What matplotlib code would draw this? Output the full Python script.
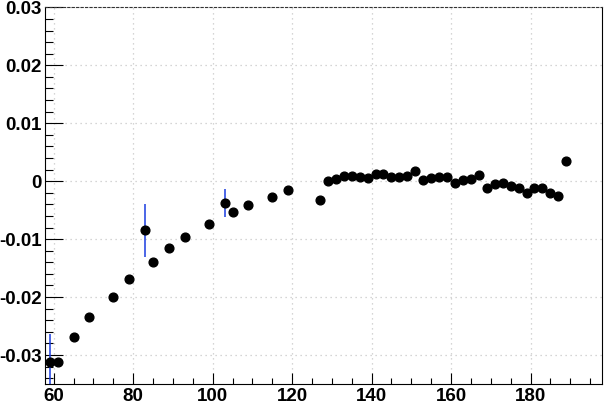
import numpy as np
import matplotlib
matplotlib.use('Agg')
import matplotlib.pyplot as plt
from matplotlib.ticker import MultipleLocator, FuncFormatter

plt.rcParams['font.family'] = ['Liberation Sans', 'DejaVu Sans']
plt.rcParams['font.weight'] = 'bold'

# 数据点 (x, y)
x_vals = [59, 61, 65, 69, 75, 79, 83, 85, 89, 93, 99, 103, 105, 109, 115, 119, 127,
          129, 131, 133, 135, 137, 139, 141, 143, 145, 147, 149, 151, 153, 155, 157,
          159, 161, 163, 165, 167, 169, 171, 173, 175, 177, 179, 181, 183, 185, 187, 189]
y_vals = [-0.0312, -0.0312, -0.0269, -0.0234, -0.0200, -0.0168, -0.0085, -0.0140,
          -0.0116, -0.0097, -0.0074, -0.0038, -0.0053, -0.0041, -0.0028, -0.0016,
          -0.0033, 0.0000, 0.0003, 0.0009, 0.0009, 0.0007, 0.0005, 0.0013, 0.0013,
          0.0007, 0.0007, 0.0009, 0.0018, 0.0002, 0.0006, 0.0007, 0.0007, -0.0003,
          0.0002, 0.0004, 0.0010, -0.0012, -0.0005, -0.0003, -0.0009, -0.0012,
          -0.0021, -0.0012, -0.0012, -0.0021, -0.0026, 0.0035]
# 可见的误差棒（其余被点遮住）
err_x = [59, 83, 103]
err_y = [-0.0312, -0.0085, -0.0038]
err_lo = [0.0048, 0.0046, 0.0023]
err_hi = [0.0048, 0.0046, 0.0025]

fig = plt.figure(figsize=(6.07, 4.07), dpi=100)
ax = fig.add_axes([0.0741, 0.0565, 0.9177, 0.9255])

ax.errorbar(err_x, err_y, yerr=[err_lo, err_hi], fmt='none', ecolor='#1a3ce0',
            elinewidth=1.1, zorder=2)
ax.plot(x_vals, y_vals, 'o', color='black', markersize=6.3, zorder=3)

ax.set_xlim(57.8, 198)
ax.set_ylim(-0.035, 0.03)

ax.xaxis.set_major_locator(MultipleLocator(20))
ax.xaxis.set_minor_locator(MultipleLocator(5))
ax.yaxis.set_major_locator(MultipleLocator(0.01))
ax.yaxis.set_minor_locator(MultipleLocator(0.002))
ax.yaxis.set_major_formatter(FuncFormatter(lambda v, p: '0' if abs(v) < 1e-9 else f'{v:g}'))

ax.grid(True, which='major', color='#c8c8c8', linestyle=(0, (1, 3)), linewidth=0.9)

ax.tick_params(axis='both', which='both', direction='in', top=False, right=False,
               labelsize=13.5, width=0.8)
ax.tick_params(axis='y', which='major', length=12.7, pad=2.5)
ax.tick_params(axis='y', which='minor', length=6.1)
ax.tick_params(axis='x', which='major', length=7.9, pad=3.0)
ax.tick_params(axis='x', which='minor', length=4.0)
for lab in ax.get_xticklabels() + ax.get_yticklabels():
    lab.set_fontweight('bold')

for s in ['left', 'bottom', 'right']:
    ax.spines[s].set_linewidth(0.8)
ax.spines['top'].set_linestyle((0, (2, 2)))
ax.spines['top'].set_linewidth(0.8)
ax.spines['top'].set_color('#333333')

fig.savefig('out.png', dpi=100)
